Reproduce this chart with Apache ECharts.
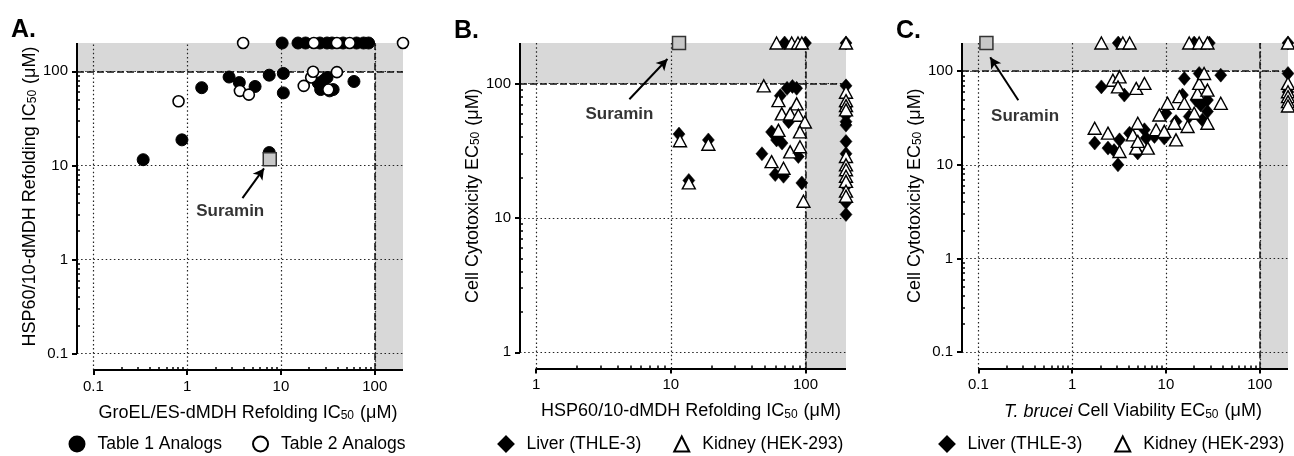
<!DOCTYPE html>
<html><head><meta charset="utf-8">
<script src="https://cdn.jsdelivr.net/npm/echarts@6/dist/echarts.min.js"></script>
<style>html,body{margin:0;padding:0;background:#fff}#c{width:1294px;height:456px}</style>
</head><body><div id="c"></div>
<script>
// ---------------- DATA ----------------
// Panel A: GroEL/ES (x) vs HSP60/10 (y) IC50 (µM)
const aTable1 = [
  [0.34, 11.5], [0.88, 18.7], [1.43, 67], [2.8, 87], [3.6, 76], [5.3, 69], [7.5, 91], [10.6, 95], [10.6, 59], [7.5, 13.7],
  [25, 75], [28.5, 80], [26.5, 64], [33, 62], [36, 64], [31, 86], [60, 78],
  [10.3, 200], [15.2, 200], [18.3, 200], [26, 200], [31, 200], [35, 200], [46, 200], [64, 200], [76, 200], [86, 200]
];
const aTable2 = [
  [0.81, 48], [3.65, 62], [4.55, 56.5], [17.5, 70], [21, 86], [22, 99], [32, 64], [39.5, 98],
  [3.95, 200], [22.4, 200], [39.5, 200], [54, 200], [200, 200]
];
const aSuramin = [[7.6, 11.6]];
// Panel B: HSP60/10 IC50 (x) vs cytotoxicity EC50 (y)
const bLiver = [
  [11.5, 42], [13.6, 19], [19, 38],
  [73, 92], [80, 95], [86, 92], [65, 81], [75, 52], [56, 43.6], [61, 38], [67, 36], [47.5, 30], [88.5, 28.6], [59.6, 21], [68.7, 20.4], [94, 18.2], [62, 40],
  [70, 200], [100, 200], [200, 200],
  [200, 96], [200, 66], [200, 58], [200, 52], [200, 49], [200, 37], [200, 30], [200, 17.2], [200, 13], [200, 10.6]
];
const bKidney = [
  [11.7, 37.5], [13.6, 18.2], [19, 35.3],
  [49, 96], [63, 74.5], [86, 70.5], [66.7, 59.4], [77, 59.4], [88.5, 58], [99, 51.7], [63, 44.8], [91, 43.6], [56, 26.2], [77, 31], [91, 33.8], [68.7, 23.4], [96.6, 13.3],
  [61, 200], [79, 200], [88, 200], [94, 200], [200, 200],
  [200, 86], [200, 74.5], [200, 68.4], [200, 63.6], [200, 28.6], [200, 24.8], [200, 22.8], [200, 20.4], [200, 18.7], [200, 15.8], [200, 14.5]
];
const bSuramin = [[11.5, 200]];
// Panel C: T. brucei EC50 (x) vs cytotoxicity EC50 (y)
const cLiver = [
  [2.05, 68], [3.6, 55.6],
  [1.74, 17.1], [2.41, 15.1], [2.8, 14.2], [3.08, 10], [3.2, 18.5], [4.09, 21.8], [5.0, 13.4], [5.9, 23.7], [6.15, 19.3], [7.54, 20.1], [9.6, 19.3], [10, 35.6], [12.8, 29], [15, 55.6], [15.7, 83.6], [17.7, 32.8], [20.9, 49.2], [23.5, 43.6], [22.6, 94.5], [27.7, 49.2], [27.7, 37.1], [24.5, 30.2], [38.4, 90.7],
  [3.1, 200], [20, 200], [29, 200], [200, 200], [200, 94.5], [200, 60]
];
const cKidney = [
  [2.72, 80], [3.2, 87], [3.08, 68], [4.82, 65.5], [5.9, 74],
  [1.74, 24.6], [2.41, 21.8], [3.2, 13.9], [4.43, 20.9], [5.01, 27.8], [4.82, 15.1], [5.01, 17.8], [6.4, 15.1], [7.85, 23.7], [8.51, 34.1], [10.4, 45.4], [9.6, 22.8], [12.8, 18.5], [12.3, 27.8], [13.9, 53.5], [15.7, 45.4], [17, 25.7], [20, 35.6], [21.7, 57.9], [22.6, 74], [25.5, 94.5], [27.7, 62.8], [27.7, 27.8], [38.4, 45.4],
  [2.05, 200], [3.47, 200], [4.1, 200], [17.7, 200], [22.6, 200], [27.7, 200], [200, 200],
  [200, 74], [200, 60.4], [200, 53.5], [200, 47.3], [200, 42.5]
];
const cSuramin = [[0.122, 200]];

// tick labels
const aXTicks = [0.1, 1, 10, 100];
const aYTicks = [0.1, 1, 10, 100];
const bXTicks = [1, 10, 100];
const bYTicks = [1, 10, 100];
const cXTicks = [0.1, 1, 10, 100];
const cYTicks = [0.1, 1, 10, 100];

// axis ranges
const aXRange = [0.067, 200], aYRange = [0.067, 200];
const bXRange = [0.758, 200], bYRange = [0.758, 200];
const cXRange = [0.067, 200], cYRange = [0.067, 200];
const cutoff = 100;

// Suramin annotations (data coordinates): label position, arrow tail, arrow tip
const aNote = { text: [2.88, 3.24], from: [3.89, 4.49], to: [6.6, 9.3] };
const bNote = { text: [4.15, 59], from: [4.92, 76.3], to: [9.44, 152] };
const cNote = { text: [0.315, 33], from: [0.267, 48.9], to: [0.134, 141] };

// ---------------- CHART ----------------
const FONT = "'Liberation Sans', Arial, Helvetica, sans-serif";
const INK = '#000';

function minorsOf(majors, max) {
  const out = [];
  majors.forEach(m => { for (let k = 2; k <= 9; k++) { const v = +(m * k).toPrecision(3); if (v < max) out.push(v); } });
  return out;
}
function fmt(v) { return v >= 1 ? String(Math.round(v)) : String(+v.toPrecision(2)); }
const rich = {
  n: { fontSize: 18, color: INK, fontFamily: FONT },
  i: { fontSize: 18, color: INK, fontFamily: FONT, fontStyle: 'italic' },
  s: { fontSize: 12, color: INK, fontFamily: FONT, verticalAlign: 'bottom', padding: [0, 1, 0, 0] }
};

const panels = [
  { grid: { left: 77, top: 43, width: 326, height: 327 }, xr: aXRange, yr: aYRange, xt: aXTicks, yt: aYTicks,
    xname: '{n|GroEL/ES-dMDH Refolding IC}{s|50}{n| (μM)}', yname: '{n|HSP60/10-dMDH Refolding IC}{s|50}{n| (μM)}',
    s1: { name: 'Table 1 Analogs', data: aTable1, symbol: 'circle', symbolSize: 12, itemStyle: { color: '#000', borderColor: '#000', borderWidth: 1, opacity: 1 } },
    s2: { name: 'Table 2 Analogs', data: aTable2, symbol: 'circle', symbolSize: 11, itemStyle: { color: '#fff', borderColor: '#000', borderWidth: 1.6, opacity: 1 } },
    sur: aSuramin, note: aNote },
  { grid: { left: 520, top: 43, width: 326, height: 325.5 }, xr: bXRange, yr: bYRange, xt: bXTicks, yt: bYTicks,
    xname: '{n|HSP60/10-dMDH Refolding IC}{s|50}{n| (μM)}', yname: '{n|Cell Cytotoxicity EC}{s|50}{n| (μM)}',
    s1: { name: 'Liver (THLE-3)', data: bLiver, symbol: 'diamond', symbolSize: [12, 14], itemStyle: { color: '#000', borderColor: '#000', borderWidth: 0.5, opacity: 1 } },
    s2: { name: 'Kidney (HEK-293)', data: bKidney, symbol: 'triangle', symbolSize: [13, 12], itemStyle: { color: '#fff', borderColor: '#000', borderWidth: 1.4, opacity: 1 } },
    sur: bSuramin, note: bNote },
  { grid: { left: 962, top: 43, width: 326, height: 325.5 }, xr: cXRange, yr: cYRange, xt: cXTicks, yt: cYTicks,
    xname: '{i|T. brucei}{n| Cell Viability EC}{s|50}{n| (μM)}', yname: '{n|Cell Cytotoxicity EC}{s|50}{n| (μM)}',
    s1: { name: 'Liver (THLE-3)', data: cLiver, symbol: 'diamond', symbolSize: [12, 14], itemStyle: { color: '#000', borderColor: '#000', borderWidth: 0.5, opacity: 1 } },
    s2: { name: 'Kidney (HEK-293)', data: cKidney, symbol: 'triangle', symbolSize: [13, 12], itemStyle: { color: '#fff', borderColor: '#000', borderWidth: 1.4, opacity: 1 } },
    sur: cSuramin, note: cNote }
];

const grid = [], xAxis = [], yAxis = [], series = [];
function seg(a, b, style) { return [{ coord: a, lineStyle: style }, { coord: b }]; }

panels.forEach((p, g) => {
  grid.push(Object.assign({ containLabel: false }, p.grid));
  const [xmin, xmax] = p.xr, [ymin, ymax] = p.yr;
  const mainX = {
    type: 'log', logBase: 10, gridIndex: g, min: xmin, max: xmax, position: 'bottom',
    axisLine: { show: false }, splitLine: { show: false },
    axisTick: { show: true, customValues: p.xt, length: 5, inside: false, lineStyle: { color: '#000', width: 2 } },
    axisLabel: { show: true, customValues: p.xt, formatter: fmt, margin: 9, fontSize: 15, color: INK, fontFamily: FONT },
    name: p.xname, nameLocation: 'middle', nameGap: 34, nameTextStyle: { rich: rich, padding: [0, 0, 0, 16] }
  };
  const minorX = {
    type: 'log', logBase: 10, gridIndex: g, min: xmin, max: xmax, position: 'bottom',
    axisLine: { show: false }, splitLine: { show: false }, axisLabel: { show: false },
    axisTick: { show: true, customValues: minorsOf(p.xt, xmax), length: 3, inside: true, lineStyle: { color: '#000', width: 1.5 } }
  };
  const mainY = {
    type: 'log', logBase: 10, gridIndex: g, min: ymin, max: ymax, position: 'left',
    axisLine: { show: false }, splitLine: { show: false },
    axisTick: { show: true, customValues: p.yt, length: 5, inside: false, lineStyle: { color: '#000', width: 2 } },
    axisLabel: { show: true, customValues: p.yt, formatter: fmt, margin: 9, fontSize: 15, color: INK, fontFamily: FONT },
    name: p.yname, nameLocation: 'middle', nameRotate: 90, nameGap: 37, nameTextStyle: { rich: rich, padding: [0, 0, 0, 20] }
  };
  const minorY = {
    type: 'log', logBase: 10, gridIndex: g, min: ymin, max: ymax, position: 'left',
    axisLine: { show: false }, splitLine: { show: false }, axisLabel: { show: false },
    axisTick: { show: true, customValues: minorsOf(p.yt, ymax), length: 3, inside: true, lineStyle: { color: '#000', width: 1.5 } }
  };
  xAxis.push(mainX, minorX);
  yAxis.push(mainY, minorY);
  const xi = 2 * g, yi = 2 * g;

  const dotted = { type: [1.5, 2.6], color: '#222', width: 1.2 };
  const dashed = { type: [7, 3], color: '#111', width: 1.5 };
  const solid = { type: 'solid', color: '#000', width: 2 };
  const lines = [];
  p.yt.forEach(v => lines.push(seg([xmin, v], [xmax, v], dotted)));
  p.xt.forEach(v => lines.push(seg([v, ymin], [v, ymax], dotted)));
  lines.push(seg([xmin, cutoff], [xmax, cutoff], dashed));
  lines.push(seg([cutoff, ymin], [cutoff, ymax], dashed));
  lines.push(seg([xmin, p.yt[0]], [xmin, ymax], solid));
  lines.push(seg([p.xt[0], ymin], [xmax, ymin], solid));

  series.push({
    type: 'scatter', name: 'bg' + g, data: [], xAxisIndex: xi, yAxisIndex: yi, clip: false, silent: true, z: 1,
    markArea: {
      silent: true, itemStyle: { color: '#d8d8d8', opacity: 1 }, label: { show: false },
      data: [
        [{ coord: [xmin, cutoff] }, { coord: [xmax, ymax] }],
        [{ coord: [cutoff, ymin] }, { coord: [xmax, ymax] }]
      ]
    },
    markLine: { silent: true, symbol: 'none', label: { show: false }, animation: false, data: lines }
  });
  [p.s1, p.s2].forEach((s, k) => {
    series.push(Object.assign({ type: 'scatter', xAxisIndex: xi, yAxisIndex: yi, clip: false, z: 10 + k, silent: true }, s));
  });
  series.push({
    type: 'scatter', name: 'Suramin', data: p.sur, xAxisIndex: xi, yAxisIndex: yi, clip: false, z: 12, silent: true,
    symbol: 'rect', symbolSize: 13, itemStyle: { color: '#c8c8c8', borderColor: '#333', borderWidth: 1.5, opacity: 1 }
  });
  series.push({
    type: 'scatter', name: 'note' + g, data: [p.note.text], xAxisIndex: xi, yAxisIndex: yi, clip: false, z: 13, silent: true,
    symbolSize: 0,
    label: { show: true, position: 'inside', formatter: 'Suramin', fontWeight: 'bold', fontSize: 17, color: INK, fontFamily: FONT },
    markLine: {
      silent: true, symbol: ['none', 'arrow'], symbolSize: [9, 11], label: { show: false }, animation: false,
      lineStyle: { type: 'solid', color: '#000', width: 2 },
      data: [[{ coord: p.note.from }, { coord: p.note.to }]]
    }
  });
});

const legendBase = { top: 435, padding: 0, width: 380, itemWidth: 15, itemHeight: 15, selectedMode: false,
  textStyle: { fontSize: 17.5, color: INK, fontFamily: FONT, padding: [0, 0, 0, 8] } };
const option = {
  animation: false,
  backgroundColor: '#fff',
  grid, xAxis, yAxis, series,
  legend: [
    Object.assign({}, legendBase, { left: 68.5, itemGap: 30, data: ['Table 1 Analogs', 'Table 2 Analogs'] }),
    Object.assign({}, legendBase, { left: 497.5, itemGap: 32, data: ['Liver (THLE-3)', 'Kidney (HEK-293)'] }),
    Object.assign({}, legendBase, { left: 938.5, itemGap: 32, data: ['Liver (THLE-3)', 'Kidney (HEK-293)'] })
  ],
  graphic: [
    { type: 'text', left: 11, top: 18, style: { text: 'A.', fontSize: 25, fontWeight: 'bold', fontFamily: FONT, fill: '#000' } },
    { type: 'text', left: 454, top: 19, style: { text: 'B.', fontSize: 25, fontWeight: 'bold', fontFamily: FONT, fill: '#000' } },
    { type: 'text', left: 896, top: 19, style: { text: 'C.', fontSize: 25, fontWeight: 'bold', fontFamily: FONT, fill: '#000' } }
  ]
};
const chart = echarts.init(document.getElementById('c'));
chart.setOption(option);
</script>
</body></html>
